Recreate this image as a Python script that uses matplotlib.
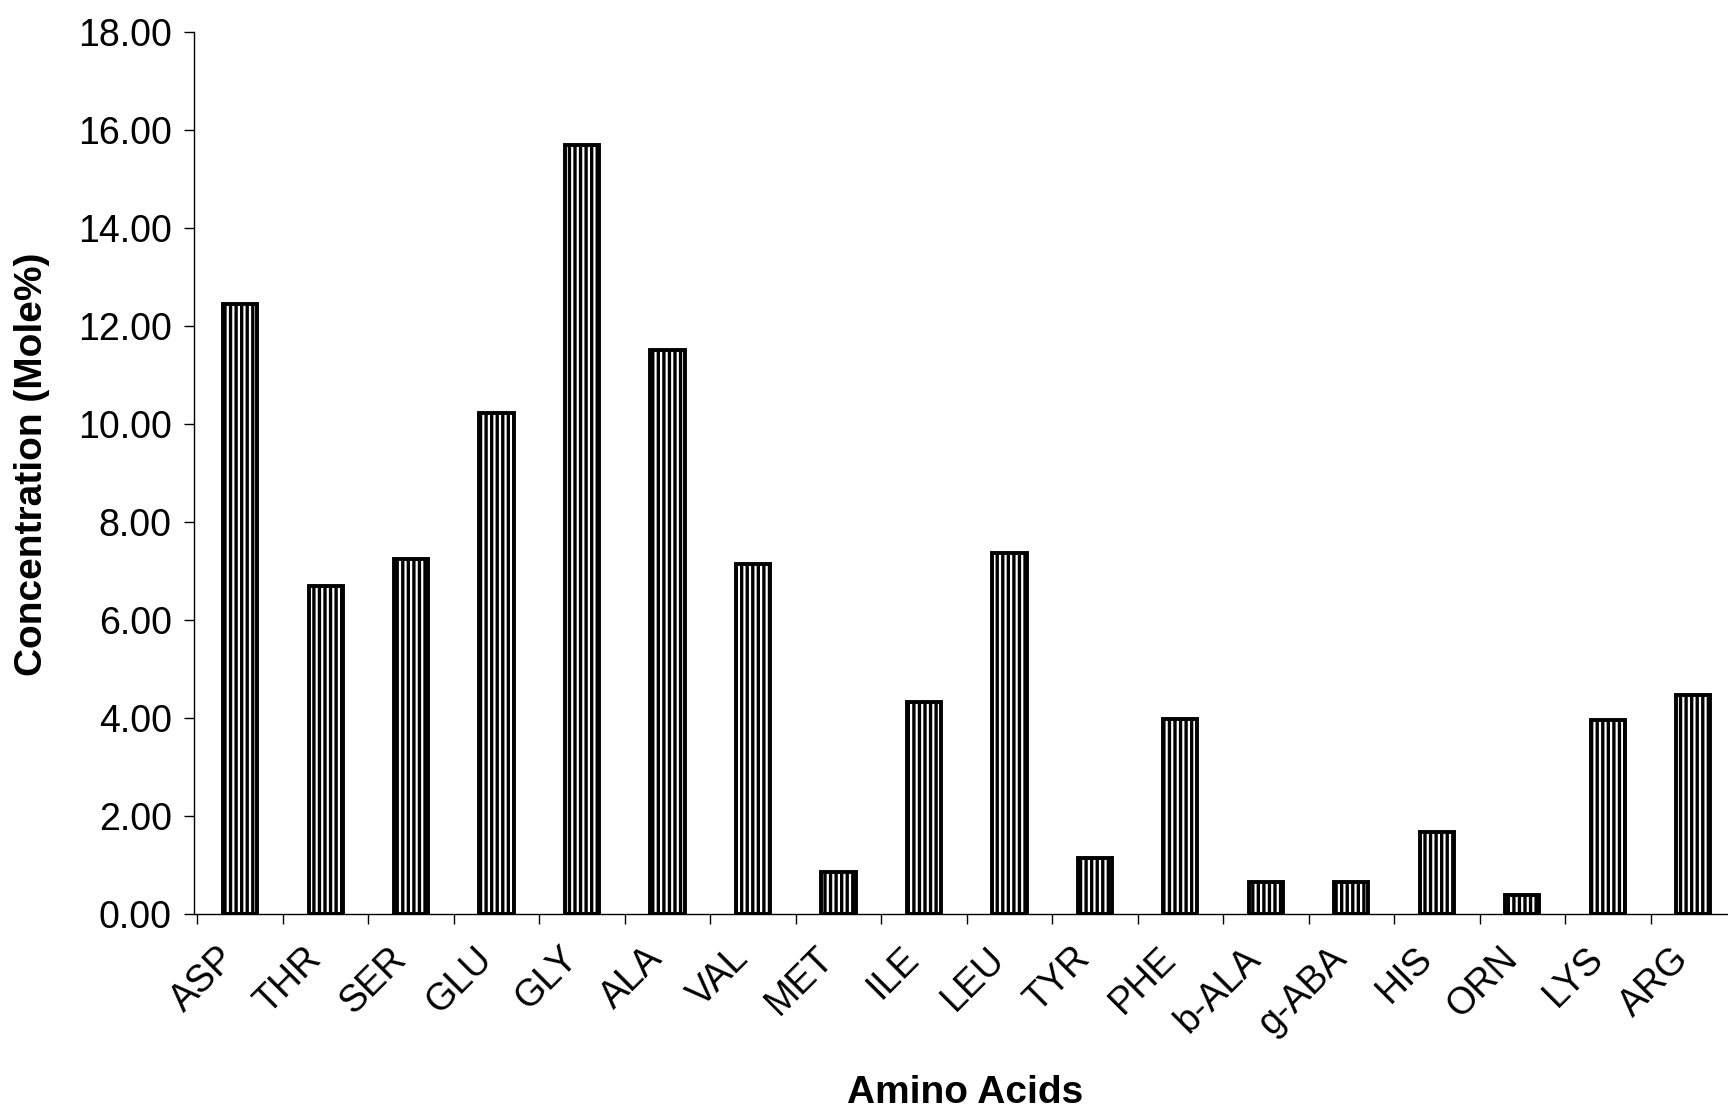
import matplotlib
matplotlib.use("Agg")
import matplotlib.pyplot as plt
import matplotlib.transforms as mtransforms
import numpy as np

categories = ["ASP", "THR", "SER", "GLU", "GLY", "ALA", "VAL", "MET", "ILE",
              "LEU", "TYR", "PHE", "b-ALA", "g-ABA", "HIS", "ORN", "LYS", "ARG"]
values = [12.45, 6.70, 7.25, 10.22, 15.70, 11.52, 7.15, 0.86, 4.32,
          7.37, 1.14, 3.98, 0.65, 0.65, 1.67, 0.38, 3.96, 4.46]
yticks = [0, 2, 4, 6, 8, 10, 12, 14, 16, 18]

plt.rcParams['font.family'] = ['Liberation Sans', 'DejaVu Sans']
plt.rcParams['hatch.linewidth'] = 2.4
plt.rcParams['hatch.color'] = 'black'

W, H = 1728, 1114
fig = plt.figure(figsize=(W / 100, H / 100), dpi=100)
left_px, right_px, top_px, bottom_px = 194, 1736, 32, 914
ax = fig.add_axes([left_px / W, (H - bottom_px) / H,
                   (right_px - left_px) / W, (bottom_px - top_px) / H])

x = np.arange(len(categories))
ax.bar(x, values, width=0.40, facecolor='white', edgecolor='black',
       linewidth=2.8, hatch='|||', zorder=3)

ax.set_xlim(-0.54, len(categories) - 0.54)
ax.set_ylim(0, 18)
ax.set_yticks(yticks)
ax.set_yticklabels([f"{v:.2f}" for v in yticks], fontsize=27)

ax.set_xticks(x)
ax.set_xticklabels(categories, fontsize=27, rotation=45, ha='right', va='top',
                   rotation_mode='anchor')
ax.set_xticks(np.arange(len(categories) + 1) - 0.5, minor=True)
ax.tick_params(axis='x', which='major', length=0, pad=19)
ax.tick_params(axis='x', which='minor', length=7, width=1, direction='out')
ax.tick_params(axis='y', which='major', length=7, width=1, direction='out', pad=9)

offset = mtransforms.ScaledTranslation(-0.23, 0, fig.dpi_scale_trans)
for lbl in ax.get_xticklabels():
    lbl.set_transform(lbl.get_transform() + offset)

for s in ['top', 'right']:
    ax.spines[s].set_visible(False)
for s in ['left', 'bottom']:
    ax.spines[s].set_linewidth(1.0)

ax.set_ylabel("Concentration (Mole%)", fontsize=28, fontweight='bold')
ax.yaxis.set_label_coords(-(left_px - 50) / (right_px - left_px), 0.51)
ax.set_xlabel("Amino Acids", fontsize=28, fontweight='bold')
ax.xaxis.set_label_coords(0.5, -(1075 - bottom_px) / (bottom_px - top_px))
ax.xaxis.label.set_va('top')

fig.savefig("out.png", dpi=100)
